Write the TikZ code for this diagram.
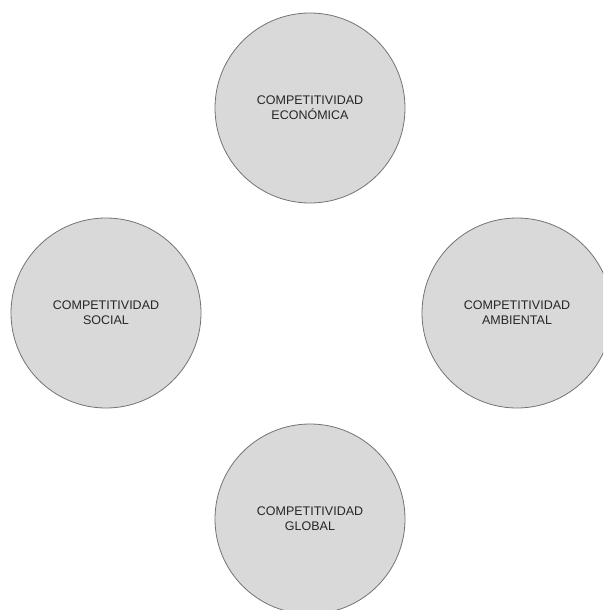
\documentclass[tikz,border=0pt]{standalone}
\usepackage{fontspec}
\setmainfont{Liberation Sans}
\usetikzlibrary{calc}
\newcommand{\circsize}{190pt}
\newcommand{\circgap}{205pt}
\tikzset{compet/.style={circle,draw=black!55,line width=0.8pt,fill=black!15,minimum size=\circsize,inner sep=0pt,align=center,text=black!85,font=\fontsize{12.5}{15}\selectfont}}

\begin{document}
\begin{tikzpicture}
		\useasboundingbox (0,0) rectangle (603pt,-610pt);
		\clip (0,0) rectangle (603pt,-610pt);
		
		\coordinate (O) at (310pt,-313pt);
		
		\node[compet] (econ) at ($(O)+(0,\circgap)$) {COMPETITIVIDAD\\ECONÓMICA};
		\node[compet] (social) at ($(O)+(-204pt,0)$) {COMPETITIVIDAD\\SOCIAL};
		\node[compet] (amb) at ($(O)+(207pt,0)$) {COMPETITIVIDAD\\AMBIENTAL};
		\node[compet] (glob) at ($(O)+(0,-206pt)$) {COMPETITIVIDAD\\GLOBAL};
		
	\end{tikzpicture}
\end{document}
